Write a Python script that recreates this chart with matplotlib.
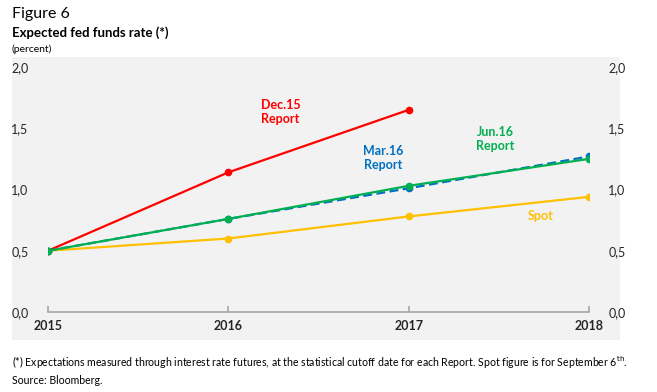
import matplotlib
matplotlib.use("Agg")
import matplotlib.pyplot as plt
from matplotlib.patches import Rectangle

plt.rcParams['font.family'] = ['Lato', 'DejaVu Sans']

years = [2015, 2016, 2017, 2018]
dec15 = [0.50, 1.14, 1.65]
mar16 = [0.50, 0.76, 1.01, 1.27]
jun16 = [0.50, 0.76, 1.03, 1.25]
spot = [0.50, 0.60, 0.78, 0.94]
yticks = [0.0, 0.5, 1.0, 1.5, 2.0]
ylabels = ['0,0', '0,5', '1,0', '1,5', '2,0']

red = '#FF0000'
blue = '#0070C0'
green = '#00B050'
yellow = '#FFC000'

fig = plt.figure(figsize=(6.57, 3.92), dpi=100)
W, H = 657, 392

# gray panel behind the chart
fig.patches.append(Rectangle((12 / W, 1 - 340 / H), 608 / W, 283 / H,
                             transform=fig.transFigure, facecolor='#F2F2F2',
                             edgecolor='none', zorder=-10))

ax = fig.add_axes([48 / W, 1 - 312 / H, 541 / W, 245 / H])
ax.set_facecolor('none')
ax.set_zorder(5)

ax.plot(years[:3], dec15, color=red, lw=1.6, marker='o', ms=4.5)
ax.plot(years, spot, color=yellow, lw=1.6, marker='o', ms=4.5)
ax.plot(years, mar16, color=blue, lw=1.6, ls=(0, (4, 2)), marker='o', ms=4.5)
ax.plot(years, jun16, color=green, lw=1.6, marker='o', ms=4.5)

ax.text(2016.29, 1.63, 'Dec.15\nReport', color=red, fontsize=9, fontweight='bold',
        ha='center', va='center', linespacing=1.2)
ax.text(2016.86, 1.26, 'Mar.16\nReport', color=blue, fontsize=9, fontweight='bold',
        ha='center', va='center', linespacing=1.2)
ax.text(2017.48, 1.41, 'Jun.16\nReport', color=green, fontsize=9, fontweight='bold',
        ha='center', va='center', linespacing=1.2)
ax.text(2017.73, 0.78, 'Spot', color=yellow, fontsize=9, fontweight='bold',
        ha='center', va='center')

ax.set_xlim(2015, 2018)
ax.set_ylim(0, 2.0)
ax.set_yticks(yticks)
ax.set_yticklabels(ylabels)
ax.set_xticks(years)
ax.set_xticklabels([str(y) for y in years])
ax.tick_params(axis='y', length=0, labelsize=9, labelcolor='#262626',
               left=True, right=True, labelleft=True, labelright=True, pad=14)
ax.tick_params(axis='x', direction='in', length=4, color='#A6A6A6', width=1.2,
               labelsize=9, labelcolor='#262626', pad=6)
for s in ['top', 'left', 'right']:
    ax.spines[s].set_visible(False)
ax.spines['bottom'].set_color('#A6A6A6')
ax.spines['bottom'].set_linewidth(1.2)
for lab in ax.get_xticklabels():
    lab.set_fontweight('bold')

fig.text(12 / W, 1 - 14 / H, 'Figure 6', fontsize=11.5, va='center', ha='left')
fig.text(12 / W, 1 - 33 / H, 'Expected fed funds rate (*)', fontsize=9.5,
         fontweight='bold', va='center', ha='left')
fig.text(12 / W, 1 - 49 / H, '(percent)', fontsize=7.5, va='center', ha='left')
fig.text(12 / W, 1 - 362 / H,
         '(*) Expectations measured through interest rate futures, at the statistical '
         'cutoff date for each Report. Spot figure is for September 6$^{\\mathrm{th}}$.',
         fontsize=7.6, va='center', ha='left')
fig.text(12 / W, 1 - 380 / H, 'Source: Bloomberg.', fontsize=7.6, va='center', ha='left')

fig.savefig('out.png', dpi=100)
